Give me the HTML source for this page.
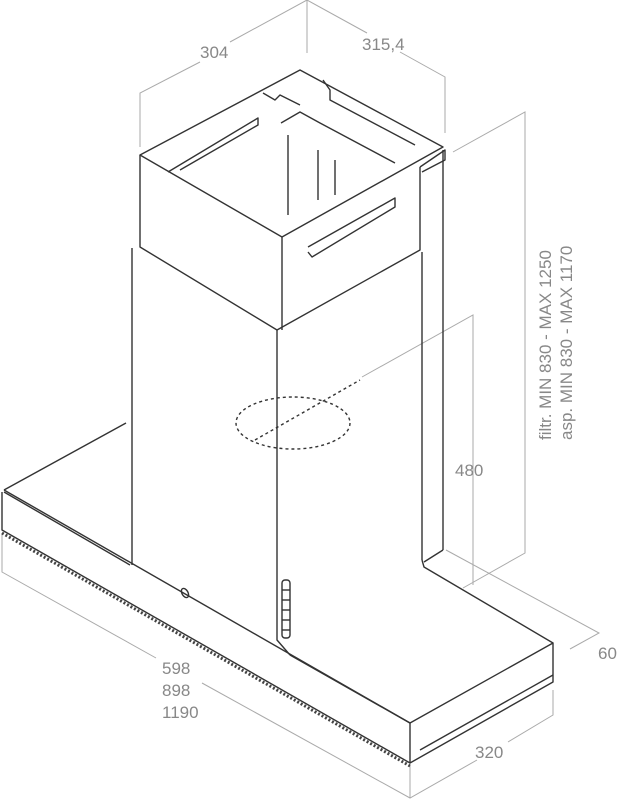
<!DOCTYPE html>
<html><head><style>html,body{margin:0;padding:0;background:#fff}svg{display:block}</style></head><body>
<svg width="643" height="800" viewBox="0 0 643 800" xmlns="http://www.w3.org/2000/svg" font-family="Liberation Sans, sans-serif">
<g stroke="#aaa" stroke-width="1" fill="none">
<!-- dimension lines -->
<polyline points="140,147 140,93 200,62"/><polyline points="230,42 307,0 367,33"/><line x1="307" y1="0" x2="307" y2="53"/>
<polyline points="400,52 445,77 445,133"/>
<polyline points="453,152 525,112 525,553 463,588"/>
<polyline points="362,377 473,315 473,585"/>
<polyline points="446,550 599,633 570,649"/>
<polyline points="2,533 2,572 156,658"/><polyline points="202,683 410,798 477,760"/><line x1="410" y1="765" x2="410" y2="798"/>
<polyline points="508,742 553,715 553,690"/>
</g>
<g stroke="#333" stroke-width="1.4" fill="none" stroke-linejoin="round">
<!-- top box -->
<polygon points="140,155 300,70 443,147 282,237"/>
<polyline points="140,155 140,247 277,330 420,250 420,167"/>
<line x1="282" y1="237" x2="282" y2="330"/>
<polyline points="168,172 258,118 258,125 180,170"/>
<polyline points="308,247 395,198 395,207 312,257 308,252"/>
<polyline points="263,93 275,100 280,95 300,105"/>
<polyline points="281,123 300,112 320,123 395,163"/>
<polyline points="323,80 330,90 330,100 415,145"/>
<line x1="288" y1="135" x2="288" y2="215"/><line x1="318" y1="150" x2="318" y2="200"/><line x1="335" y1="160" x2="335" y2="195"/>
<polyline points="420,167 445,150 445,160 422,172"/>
<!-- lower chimney -->
<polyline points="132,248 132,565"/>
<polyline points="277,330 277,640 290,655"/>
<line x1="422" y1="252" x2="422" y2="560"/><line x1="443" y1="150" x2="443" y2="550"/>
<polyline points="422,560 424,567 553,643"/>
<line x1="443" y1="550" x2="424" y2="562"/>
<!-- hood -->
<polyline points="4,490 126,423"/>
<polyline points="4,492 130,565"/>
<polyline points="290,655 410,723 553,643 553,682 410,763 2,530 2,492"/>
<line x1="410" y1="723" x2="410" y2="763"/>
<polyline points="4,490 410,723"/>
<line x1="420" y1="750" x2="553" y2="675"/>
<rect x="282" y="580" width="8" height="58" rx="3"/>
<line x1="282" y1="590" x2="290" y2="590"/><line x1="282" y1="600" x2="290" y2="600"/><line x1="282" y1="610" x2="290" y2="610"/><line x1="282" y1="620" x2="290" y2="620"/><line x1="282" y1="630" x2="290" y2="630"/>
<ellipse cx="185" cy="593" rx="3" ry="5" transform="rotate(-30 185 593)"/>
</g>
<path d="M2,533 L410,766" stroke="#444" stroke-width="3" stroke-dasharray="2 2" fill="none"/>
<g stroke="#333" stroke-width="1.4" stroke-dasharray="3 3" fill="none">
<ellipse cx="293" cy="423" rx="57" ry="26"/>
<line x1="255" y1="440" x2="360" y2="380"/>
</g>
<g fill="#888" font-size="17">
<text x="200" y="58">304</text>
<text x="362" y="50">315,4</text>
<text x="455" y="476">480</text>
<text x="598" y="659">60</text>
<text x="475" y="758">320</text>
<text x="162" y="674">598</text>
<text x="162" y="696">898</text>
<text x="162" y="718">1190</text>
<text transform="translate(551,440) rotate(-90)">filtr. MIN 830 - MAX 1250</text>
<text transform="translate(572,440) rotate(-90)">asp. MIN 830 - MAX 1170</text>
</g>
</svg>
</body></html>
